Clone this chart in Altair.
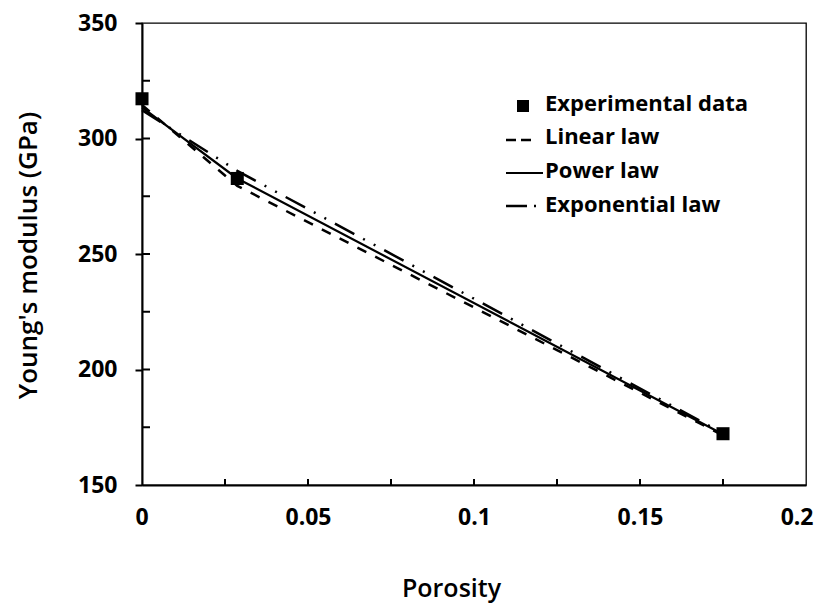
import altair as alt
import pandas as pd

# ---- data ----
porosity = [0.0, 0.0287, 0.175]
experimental = [317.2, 282.7, 172.2]
linear_law = [314.5, 279.5, 171.5]
power_law = [313.5, 282.7, 172.0]
exponential_law = [312.3, 286.0, 172.4]

x_label_values = [0, 0.05, 0.1, 0.15, 0.2]
x_minor_ticks = [0.025, 0.05, 0.075, 0.1, 0.125, 0.15, 0.175]
y_label_values = [150, 200, 250, 300, 350]
y_minor_ticks = [175, 200, 225, 250, 275, 300, 325]

legend_labels = ["Experimental data", "Linear law", "Power law", "Exponential law"]

W, H = 664, 462
FONT = "Open Sans"

xs = alt.Scale(domain=[0, 0.2], nice=False, zero=False)
ys = alt.Scale(domain=[150, 350], nice=False, zero=False)

df_exp = pd.DataFrame({"p": porosity, "E": experimental})
df_lin = pd.DataFrame({"p": porosity, "E": linear_law})
df_pow = pd.DataFrame({"p": porosity, "E": power_law})
df_expo = pd.DataFrame({"p": porosity, "E": exponential_law})

x_axis = alt.Axis(
    values=x_label_values, labelExpr="'' + datum.value", title="Porosity",
    grid=False, ticks=False, domainColor="black", domainWidth=2,
    labelFont=FONT, labelFontSize=23, labelFontWeight="bold", labelColor="black",
    labelPadding=21, labelFlush=True, labelFlushOffset=7,
    titleFont=FONT, titleFontSize=25, titleFontWeight=600, titleColor="black",
    titleX=309, titleY=103, titleBaseline="middle", titleAlign="center",
)
y_axis = alt.Axis(
    values=y_label_values, title="Young's modulus (GPa)",
    grid=False, ticks=True, tickSize=7, tickWidth=2, tickColor="black",
    domainColor="black", domainWidth=2,
    labelFont=FONT, labelFontSize=23, labelFontWeight="bold", labelColor="black",
    labelPadding=18, labelBaseline="middle",
    titleFont=FONT, titleFontSize=26, titleFontWeight=600, titleColor="black",
    titleX=-114, titleY=232, titleBaseline="middle", titleAlign="center", titleAngle=-90,
)

X = alt.X("p:Q", scale=xs, axis=x_axis)
Y = alt.Y("E:Q", scale=ys, axis=y_axis)

points = alt.Chart(df_exp).mark_square(size=170, color="black", opacity=1, filled=True).encode(x=X, y=Y)

def line_layer(df, dash, width):
    kw = dict(color="black", strokeWidth=width)
    if dash:
        kw["strokeDash"] = dash
    return alt.Chart(df).mark_line(**kw).encode(x=X, y=Y)

lin_line = line_layer(df_lin, [10, 10], 2.5)
pow_line = line_layer(df_pow, None, 2.2)
expo_line = line_layer(df_expo, [22, 10, 2, 10, 2, 10], 2.5)

# inward minor ticks
y_in = alt.Chart(pd.DataFrame({"E": y_minor_ticks})).mark_rule(color="black", strokeWidth=2).encode(
    y=Y, x=alt.value(0), x2=alt.value(8)
)
x_in = alt.Chart(pd.DataFrame({"p": x_minor_ticks})).mark_rule(color="black", strokeWidth=2).encode(
    x=X, y=alt.value(H), y2=alt.value(H - 6)
)

# manual legend
one = pd.DataFrame({"k": [0]})
legend_y = [81, 114, 148, 182]
legend_layers = []
for lbl, yy in zip(legend_labels, legend_y):
    legend_layers.append(
        alt.Chart(pd.DataFrame({"label": [lbl]})).mark_text(
            align="left", baseline="middle", font=FONT, fontSize=22, fontWeight="bold", color="black"
        ).encode(text="label:N", x=alt.value(403), y=alt.value(yy))
    )
leg_sq = alt.Chart(one).mark_square(size=144, color="black", opacity=1, filled=True).encode(
    x=alt.value(381), y=alt.value(83)
)
leg_lin = alt.Chart(one).mark_rule(color="black", strokeWidth=2.5, strokeDash=[10, 5]).encode(
    x=alt.value(364), x2=alt.value(389), y=alt.value(117)
)
leg_pow = alt.Chart(one).mark_rule(color="black", strokeWidth=2.2).encode(
    x=alt.value(364), x2=alt.value(401), y=alt.value(150)
)
leg_expo = alt.Chart(one).mark_rule(color="black", strokeWidth=2.5, strokeDash=[21, 7, 2, 20]).encode(
    x=alt.value(364), x2=alt.value(395), y=alt.value(183)
)

chart = alt.layer(
    y_in, x_in, lin_line, pow_line, expo_line, points,
    leg_sq, leg_lin, leg_pow, leg_expo, *legend_layers
).properties(
    width=W, height=H,
    autosize=alt.AutoSizeParams(type="none"),
    padding={"left": 134, "top": 15, "right": 8, "bottom": 121},
    background="white",
).configure_view(stroke="black", strokeWidth=1.3)

chart.save("out.html", embed_options={"renderer": "svg", "actions": False})
